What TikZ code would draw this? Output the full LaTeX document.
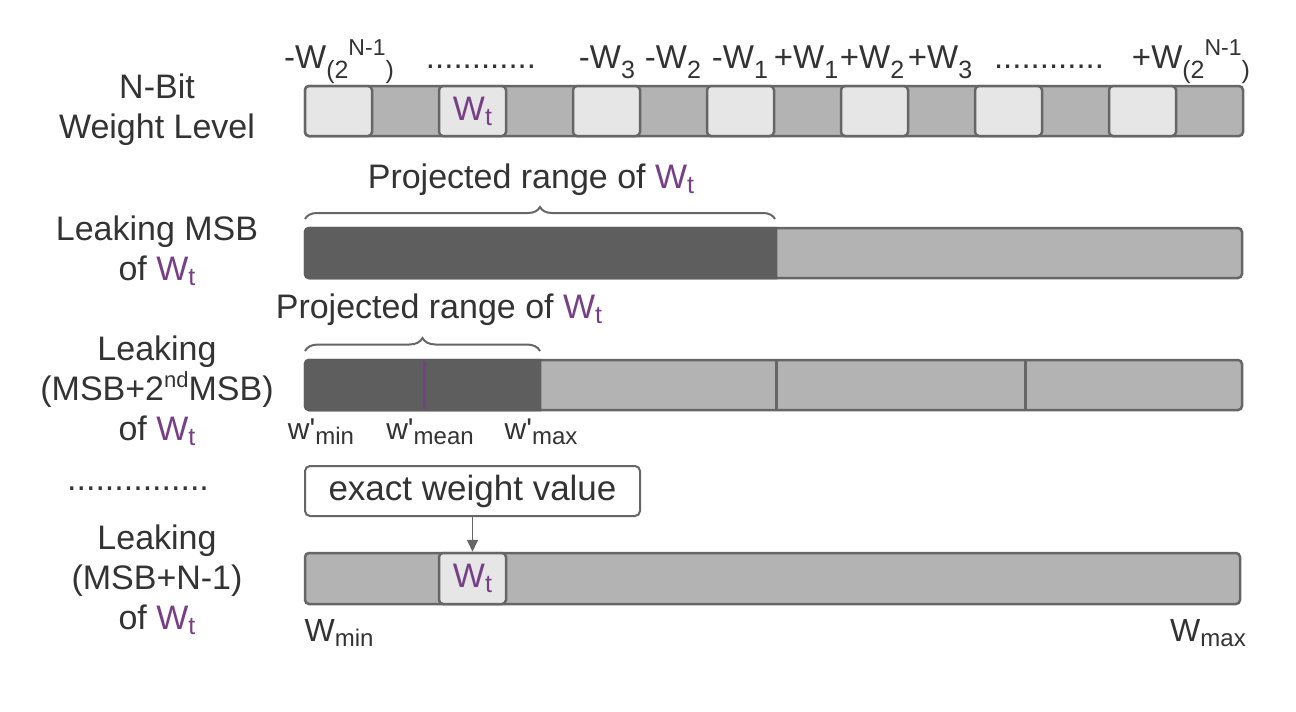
\documentclass[tikz,border=0pt]{standalone}
\usepackage{fontspec}
\setmainfont{Liberation Sans}
\usetikzlibrary{decorations.pathreplacing,arrows.meta}
\definecolor{txt}{HTML}{333333}
\definecolor{pur}{HTML}{763F86}
\definecolor{edge}{HTML}{666666}
\definecolor{barc}{HTML}{B3B3B3}
\definecolor{cellc}{HTML}{E6E6E6}
\definecolor{darkc}{HTML}{5E5E5E}
\newcommand\Wt{\textcolor{pur}{W\raisebox{-0.15em}{\fontsize{25}{25}\selectfont t}}}
\newcommand\lsub[1]{\raisebox{-0.33em}{\fontsize{25}{25}\selectfont #1}}
\newcommand\Wbig{W\lsub{(2}\raisebox{0.38em}{\fontsize{23}{23}\selectfont N-1}\lsub{)}}
\newcommand\msub[1]{\raisebox{-0.18em}{\fontsize{24}{24}\selectfont #1}}
\newcommand\wprime{w\textquotesingle}
\begin{document}
\begin{tikzpicture}[x=1pt,y=-1pt,
  lbl/.style={inner sep=0, align=center, font=\fontsize{34}{40}\selectfont, text=txt},
  toplbl/.style={inner sep=0, anchor=base, font=\fontsize{33}{36}\selectfont, text=txt},
  wlbl/.style={inner sep=0, anchor=base, font=\fontsize{30}{34}\selectfont, text=txt},
  bar/.style={draw=edge, line width=2.5, fill=barc, rounded corners=4},
  cellbox/.style={draw=edge, line width=2.5, fill=cellc, rounded corners=4, minimum width=67, minimum height=50, inner sep=0, font=\fontsize{34}{40}\selectfont},
  brc/.style={decorate, decoration={brace, amplitude=#1}, draw=edge, line width=2},
  divider/.style={draw=edge, line width=3}]
\useasboundingbox[fill=white] (0,0) rectangle (1296,712);

% left labels
\node[lbl] (n1) at (157,110) {N-Bit\\Weight Level};
\node[lbl] (n2) at (157,251) {Leaking MSB\\of \Wt};
\node[lbl] (n3) at (157,391) {Leaking\\(MSB+2\raisebox{0.4em}{\fontsize{22}{22}\selectfont nd}MSB)\\of \Wt};
\node[lbl, anchor=base] (nd) at (138,490) {...............};
\node[lbl] (n4) at (157,580) {Leaking\\(MSB+N-1)\\of \Wt};

% row 1 labels
\node[toplbl] (t1) at (339,68) {-\Wbig};
\node[toplbl] (t2) at (481,68) {............};
\node[toplbl] (t3) at (607,68) {-W\lsub{3}};
\node[toplbl] (t4) at (673,68) {-W\lsub{2}};
\node[toplbl] (t5) at (740,68) {-W\lsub{1}};
\node[toplbl] (t6) at (806,68) {+W\lsub{1}};
\node[toplbl] (t7) at (872,68) {+W\lsub{2}};
\node[toplbl] (t8) at (940,68) {+W\lsub{3}};
\node[toplbl] (t9) at (1049,68) {............};
\node[toplbl] (t10) at (1191,68) {+\Wbig};

% row 1 bar
\draw[bar] (305,86) rectangle (1243,136);
\foreach \k in {0,...,6} {
  \node[cellbox] (c\k) at ({338.5+134*\k},111) {};
}
\node[inner sep=0, font=\fontsize{34}{40}\selectfont] (c1t) at (c1) {\Wt};

% row 2
\node[lbl] (p1) at (531,180) {Projected range of \Wt};
\draw[brc=12] (305,219) -- (775,219);
\draw[bar] (305,228) rectangle (1242,278);
\draw[draw=darkc, line width=2.5, fill=darkc] (776,228) [rounded corners=4] -- (305,228) -- (305,278) [sharp corners] -- (776,278) -- cycle;

% row 3
\node[lbl] (p2) at (439,310) {Projected range of \Wt};
\draw[brc=13] (305,351) -- (540,351);
\draw[bar] (305,360) rectangle (1242,410);
\draw[draw=darkc, line width=2.5, fill=darkc] (540,360) [rounded corners=4] -- (305,360) -- (305,410) [sharp corners] -- (540,410) -- cycle;
\draw[pur, line width=3] (424,361) -- (424,409);
\draw[divider] (776,360) -- (776,410);
\draw[divider] (1025,360) -- (1025,410);
\node[wlbl] (wmin) at (321,439) {\wprime\msub{min}};
\node[wlbl] (wmean) at (430,439) {\wprime\msub{mean}};
\node[wlbl] (wmax) at (541,439) {\wprime\msub{max}};

% row 4
\node[draw=edge, line width=2, fill=white, rounded corners=5, minimum width=335, minimum height=50, inner sep=0, font=\fontsize{35}{40}\selectfont, text=txt] (ex) at (472.5,491) {exact weight value};
\draw[bar] (305,553) rectangle (1240,604);
\node[cellbox, minimum height=51] (w4) at (472.5,578.5) {\Wt};
\draw[-{Triangle[length=12,width=11]}, edge, line width=1.6] (ex.south) -- (w4.north);
\node[toplbl, font=\fontsize{32}{36}\selectfont] (wmn) at (339,641) {W\msub{min}};
\node[toplbl, font=\fontsize{32}{36}\selectfont] (wmx) at (1208,641) {W\msub{max}};
\end{tikzpicture}
\end{document}
